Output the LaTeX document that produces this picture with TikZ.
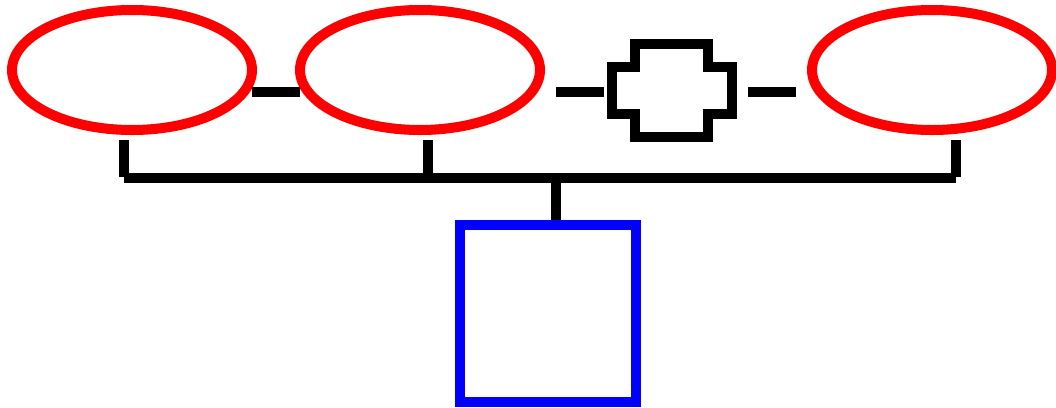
\documentclass[tikz,border=0pt]{standalone}
\usetikzlibrary{shapes.geometric}
\begin{document}
\begin{tikzpicture}[x=1pt,y=-1pt,line width=10pt,
  oval/.style={draw=red,ellipse,minimum width=240pt,minimum height=120pt,inner sep=0pt},
  box/.style={draw=blue,rectangle,minimum width=176pt,minimum height=177pt,inner sep=0pt}]
\useasboundingbox (0,0) rectangle (1056,407);
\node[oval] (o1) at (132,70) {};
\node[oval] (o2) at (420,70) {};
\node[oval] (o3) at (932,70) {};
\node[box] (sq) at (548,313.5) {};
% cross shaped piece
\draw (635,44)--(708,44)--(708,67)--(732,67)--(732,114)--(708,114)--(708,137)
  --(635,137)--(635,114)--(612,114)--(612,67)--(635,67)--cycle;
\coordinate (a1) at (252,92); \coordinate (a2) at (300,92);
\coordinate (b1) at (556,92); \coordinate (b2) at (604,92);
\coordinate (c1) at (748,92); \coordinate (c2) at (796,92);
\draw (a1)--(a2);
\draw (b1)--(b2);
\draw (c1)--(c2);
% bracket
\coordinate (t1) at (123.5,140); \coordinate (t2) at (428,140); \coordinate (t3) at (956,140);
\coordinate (j) at (556,177.5);
\draw (t1)--(123.5,177); \draw (t2)--(428,177); \draw (t3)--(956,177);
\draw (124,177.5)--(956,177.5);
\draw (j)--(sq.north -| j);
\end{tikzpicture}
\end{document}
